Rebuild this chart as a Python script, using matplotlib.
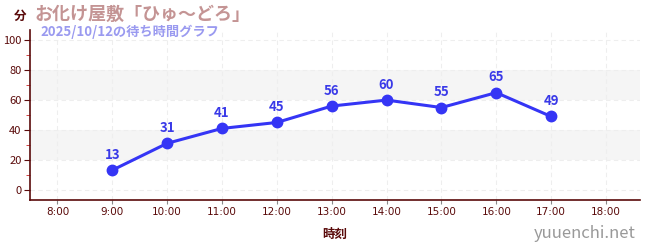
import matplotlib
matplotlib.use("Agg")
import matplotlib.pyplot as plt
from matplotlib.ticker import MultipleLocator

plt.rcParams['font.family'] = ['Noto Sans CJK JP', 'DejaVu Sans']

hours = [9, 10, 11, 12, 13, 14, 15, 16, 17]
waits = [13, 31, 41, 45, 56, 60, 55, 65, 49]
xticks = list(range(8, 19))
xticklabels = [f"{h}:00" for h in xticks]
yticks = [0, 20, 40, 60, 80, 100]
title = "お化け屋敷「ひゅ〜どろ」"
subtitle = "2025/10/12の待ち時間グラフ"

fig = plt.figure(figsize=(6.5, 2.5), dpi=100)
ax = fig.add_axes([30/650, 50/250, 610/650, 170/250])

dark = '#5a0a0a'
ax.set_xlim(7.5, 18.62)
ax.set_ylim(-7, 107)

for lo, hi in [(20, 40), (60, 80)]:
    ax.axhspan(lo, hi, color='#f5f5f5', zorder=0, lw=0)
for y in yticks:
    ax.axhline(y, color='#eeeeee', ls=(0, (4, 3)), lw=0.8, zorder=0.5)
for x in xticks:
    ax.axvline(x, color='#eeeeee', ls=(0, (4, 3)), lw=0.8, zorder=0.5)

ax.plot(hours, waits, color='#3535f5', lw=2.2, marker='o', ms=7.5, zorder=3)
for h, w in zip(hours, waits):
    ax.annotate(str(w), (h, w), xytext=(0, 6), textcoords='offset points',
                ha='center', va='bottom', color='#3a3ae8', fontsize=9.5,
                fontweight='bold', zorder=4)

ax.set_xticks(xticks)
ax.set_xticklabels(xticklabels, fontsize=7.5, color=dark, family=['Liberation Sans Narrow', 'DejaVu Sans'])
ax.set_yticks(yticks)
ax.set_yticklabels([str(v) for v in yticks], fontsize=8, color=dark)
ax.yaxis.set_minor_locator(MultipleLocator(10))
ax.tick_params(axis='y', which='minor', length=3, color='#cc2222')
ax.tick_params(axis='both', which='major', length=4, color=dark, pad=2)
ax.tick_params(axis='x', which='major', length=3, color='#888888')
for s in ['top', 'right']:
    ax.spines[s].set_visible(False)
for s in ['left', 'bottom']:
    ax.spines[s].set_color(dark)
    ax.spines[s].set_linewidth(1.2)

ax.set_xlabel("時刻", fontsize=9, color=dark, fontweight='bold', labelpad=8)

fig.text(14/650, 1 - 16/250, "分", fontsize=9, color=dark, fontweight='bold', ha='left', va='center')
fig.text(35/650, 1 - 14/250, title, fontsize=13, color='#c49494', fontweight='bold', ha='left', va='center')
fig.text(40/650, 1 - 32/250, subtitle, fontsize=9.5, color='#9a9af0', fontweight='bold', ha='left', va='center')
fig.text(636/650, 1 - 234/250, "yuuenchi.net", fontsize=12, color='#999999', ha='right', va='center')

fig.savefig("out.png", dpi=100)
